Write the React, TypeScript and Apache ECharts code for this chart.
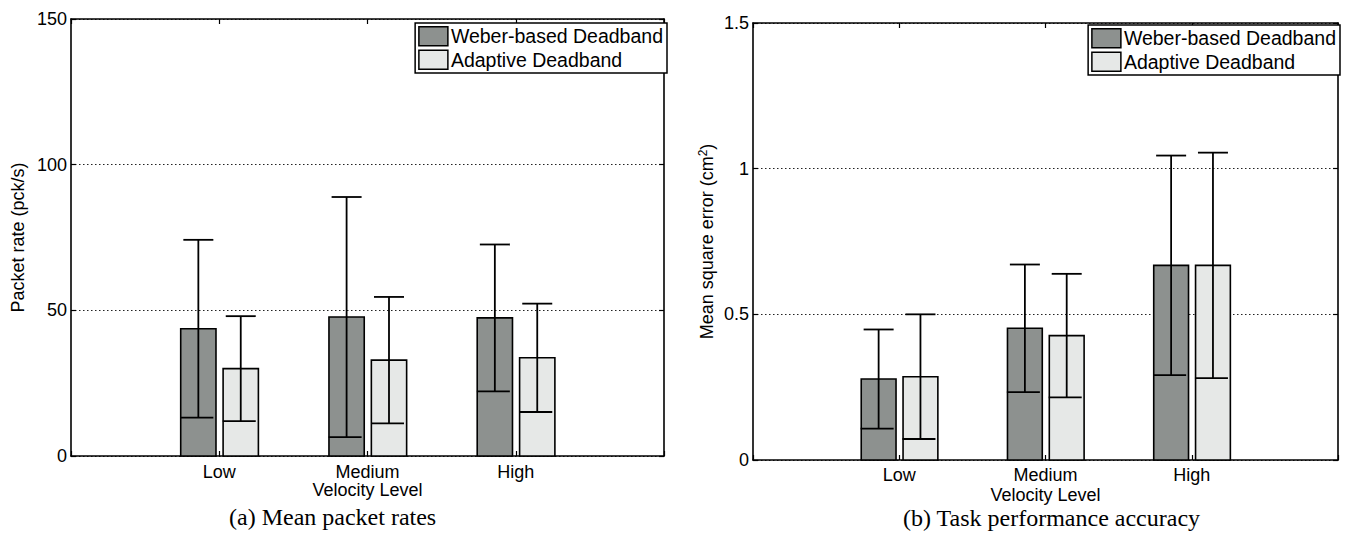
import React, { useEffect, useRef } from "react";
import * as echarts from "echarts";

const categories = ["Low", "Medium", "High"];
const seriesNames = ["Weber-based Deadband", "Adaptive Deadband"];

// (a) Mean packet rates (pck/s)
const rateWeberMean = [43.7, 47.7, 47.4];
const rateWeberSd = [30.5, 41.2, 25.2];
const rateAdaptiveMean = [30.0, 32.9, 33.7];
const rateAdaptiveSd = [18.0, 21.7, 18.6];

// (b) Mean square error (cm^2)
const mseWeberMean = [0.278, 0.452, 0.668];
const mseWeberSd = [0.17, 0.219, 0.377];
const mseAdaptiveMean = [0.286, 0.427, 0.668];
const mseAdaptiveSd = [0.214, 0.212, 0.387];

const rateTicks = { min: 0, max: 150, interval: 50 };
const mseTicks = { min: 0, max: 1.5, interval: 0.5 };

const DARK = "#8d918f";
const LIGHT = "#e6e8e7";
const SANS = '"Liberation Sans", Arial, Helvetica, sans-serif';
const SERIF = '"Liberation Serif", "Times New Roman", serif';

const BAR_W = 0.238;
const OFFSETS = [-0.141, 0.145];

function makeRender(offset: number, fill: string) {
  return (params: any, api: any) => {
    const x = api.value(0);
    const m = api.value(1);
    const sd = api.value(2);
    const cx = x + offset;
    const tl = api.coord([cx - BAR_W / 2, m]);
    const br = api.coord([cx + BAR_W / 2, 0]);
    const c = api.coord([cx, m]);
    const top = api.coord([cx, m + sd]);
    const bot = api.coord([cx, Math.max(m - sd, 0)]);
    const cap = 15;
    const ls = { stroke: "#000", lineWidth: 1.8 };
    return {
      type: "group",
      children: [
        {
          type: "rect",
          shape: { x: tl[0], y: tl[1], width: br[0] - tl[0], height: br[1] - tl[1] },
          style: { fill, stroke: "#000", lineWidth: 1.6 },
        },
        { type: "line", shape: { x1: c[0], y1: top[1], x2: c[0], y2: bot[1] }, style: ls },
        { type: "line", shape: { x1: c[0] - cap, y1: top[1], x2: c[0] + cap, y2: top[1] }, style: ls },
        { type: "line", shape: { x1: c[0] - cap - 3, y1: bot[1], x2: c[0] + cap, y2: bot[1] }, style: ls },
      ],
    };
  };
}

function toData(mean: number[], sd: number[]) {
  return categories.map((_, i) => [i + 1, mean[i], sd[i]]);
}

export default function App() {
  const ref = useRef<HTMLDivElement>(null);

  useEffect(() => {
    document.body.style.margin = "0";
    if (!ref.current) return;
    const chart = echarts.init(ref.current, null, { renderer: "svg" });

    const grids = [
      { left: 71, top: 19, width: 593, height: 437 },
      { left: 753, top: 23, width: 585, height: 437 },
    ];

    const xBottom = (gi: number) => ({
      type: "value",
      gridIndex: gi,
      min: 0,
      max: 4,
      interval: 1,
      position: "bottom",
      axisLine: { show: true, onZero: false, lineStyle: { color: "#000", width: 1.6 } },
      axisTick: { show: true, inside: true, length: 5, lineStyle: { color: "#000", width: 1.2 } },
      axisLabel: {
        color: "#000",
        fontSize: 18,
        lineHeight: 18,
        fontFamily: SANS,
        margin: gi === 0 ? 7 : 6,
        formatter: (v: number) => categories[Math.round(v) - 1] ?? "",
      },
      splitLine: { show: false },
      name: "Velocity Level",
      nameLocation: "middle",
      nameMoveOverlap: false,
      nameGap: gi === 0 ? 25 : 26,
      nameTextStyle: { color: "#000", fontSize: 18, fontFamily: SANS, lineHeight: 18, verticalAlign: "top" },
    });
    const xTop = (gi: number) => ({
      type: "value",
      gridIndex: gi,
      min: 0,
      max: 4,
      interval: 1,
      position: "top",
      axisLine: { show: true, onZero: false, lineStyle: { color: "#000", width: 1.6 } },
      axisTick: { show: true, inside: true, length: 5, lineStyle: { color: "#000", width: 1.2 } },
      axisLabel: { show: false },
      splitLine: { show: false },
    });
    const yLeft = (gi: number, t: any, name: string, gap: number) => ({
      type: "value",
      gridIndex: gi,
      min: t.min,
      max: t.max,
      interval: t.interval,
      position: "left",
      axisLine: { show: true, onZero: false, lineStyle: { color: "#000", width: 1.6 } },
      axisTick: { show: true, inside: true, length: 5, lineStyle: { color: "#000", width: 1.2 } },
      axisLabel: { color: "#000", fontSize: 18, fontFamily: SANS, margin: 4 },
      splitLine: { show: true, lineStyle: { color: "#222", type: [1.5, 2.5], width: 1.2 } },
      name,
      nameLocation: "middle",
      nameGap: gap,
      nameTextStyle: {
        color: "#000",
        fontSize: 18,
        fontFamily: SANS,
        rich: { sup: { fontSize: 12, verticalAlign: "top", padding: [0, 0, 8, 0], color: "#000", fontFamily: SANS } },
      },
    });
    const yRight = (gi: number, t: any) => ({
      type: "value",
      gridIndex: gi,
      min: t.min,
      max: t.max,
      interval: t.interval,
      position: "right",
      axisLine: { show: true, onZero: false, lineStyle: { color: "#000", width: 1.6 } },
      axisTick: { show: true, inside: true, length: 5, lineStyle: { color: "#000", width: 1.2 } },
      axisLabel: { show: false },
      splitLine: { show: false },
    });

    const legendCommon = {
      orient: "vertical",
      icon: "rect",
      itemWidth: 29,
      itemHeight: 19,
      itemGap: 3,
      padding: [3, 4, 3, 3],
      borderColor: "#000",
      borderWidth: 1.5,
      backgroundColor: "#fff",
      selectedMode: false,
      textStyle: { color: "#000", fontSize: 19.5, fontFamily: SANS, padding: [0, 0, 0, -2] },
      data: [
        { name: seriesNames[0], itemStyle: { color: DARK, borderColor: "#000", borderWidth: 1.5 } },
        { name: seriesNames[1], itemStyle: { color: LIGHT, borderColor: "#000", borderWidth: 1.5 } },
      ],
    };

    const mk = (name: string, gi: number, k: number, mean: number[], sd: number[]) => ({
      type: "custom",
      name,
      xAxisIndex: gi * 2,
      yAxisIndex: gi * 2,
      itemStyle: { color: k === 0 ? DARK : LIGHT },
      renderItem: makeRender(OFFSETS[k], k === 0 ? DARK : LIGHT),
      data: toData(mean, sd),
      z: 3,
    });

    chart.setOption({
      animation: false,
      backgroundColor: "#fff",
      grid: grids.map((g) => ({ ...g, show: false, containLabel: false })),
      xAxis: [xBottom(0), xTop(0), xBottom(1), xTop(1)],
      yAxis: [
        yLeft(0, rateTicks, "Packet rate (pck/s)", 44),
        yRight(0, rateTicks),
        yLeft(1, mseTicks, "Mean square error (cm{sup|2})", 36),
        yRight(1, mseTicks),
      ],
      legend: [
        { ...legendCommon, right: 1349 - 667, top: 23 },
        { ...legendCommon, right: 1349 - 1340, top: 25 },
      ],
      series: [
        mk(seriesNames[0], 0, 0, rateWeberMean, rateWeberSd),
        mk(seriesNames[1], 0, 1, rateAdaptiveMean, rateAdaptiveSd),
        mk(seriesNames[0], 1, 0, mseWeberMean, mseWeberSd),
        mk(seriesNames[1], 1, 1, mseAdaptiveMean, mseAdaptiveSd),
      ],
      graphic: [
        {
          type: "text",
          left: 333 - 104,
          top: 505,
          style: { text: "(a) Mean packet rates", fill: "#000", font: `24px ${SERIF}`, lineHeight: 24 },
        },
        {
          type: "text",
          left: 1046 - 143,
          top: 506,
          style: { text: "(b) Task performance accuracy", fill: "#000", font: `24px ${SERIF}`, lineHeight: 24 },
        },
      ],
    });

    return () => chart.dispose();
  }, []);

  return <div ref={ref} style={{ width: 1349, height: 554 }} />;
}
